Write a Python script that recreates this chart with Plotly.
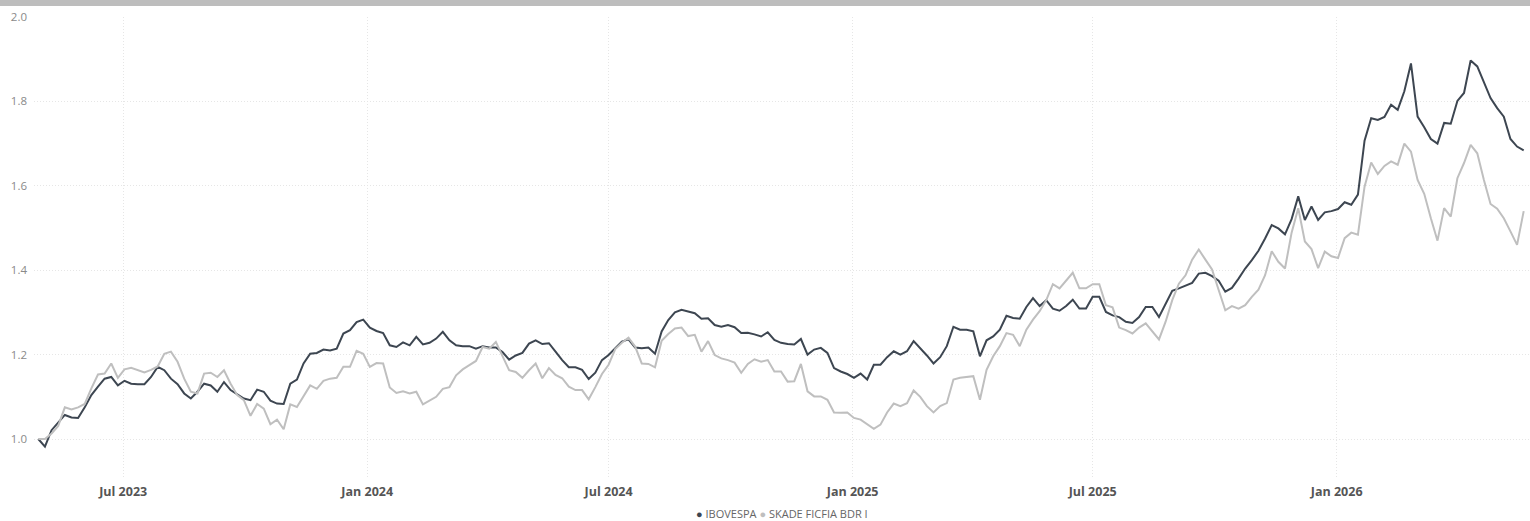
import plotly.graph_objects as go
import pandas as pd

# ---- data ----
start_date = "2023-04-28"
step = "5D"

series_names = ["IBOVESPA", "SKADE FICFIA BDR I"]

ibovespa = [
    1.000, 0.982, 1.021, 1.039, 1.057, 1.051, 1.050, 1.075, 1.104, 1.124,
    1.143, 1.147, 1.127, 1.138, 1.131, 1.130, 1.130, 1.147, 1.171, 1.163,
    1.143, 1.130, 1.108, 1.096, 1.112, 1.131, 1.127, 1.112, 1.135, 1.116,
    1.106, 1.096, 1.092, 1.117, 1.112, 1.091, 1.084, 1.083,
    1.131, 1.141, 1.179, 1.202, 1.204, 1.212, 1.210, 1.214, 1.250, 1.258,
    1.277, 1.283, 1.264, 1.256, 1.251, 1.222, 1.218, 1.229, 1.222, 1.242,
    1.224, 1.228, 1.238, 1.254, 1.234, 1.222, 1.220, 1.220, 1.214, 1.220,
    1.217, 1.217, 1.206, 1.188, 1.198, 1.204, 1.226, 1.234,
    1.225, 1.227, 1.207, 1.187, 1.170, 1.170, 1.164, 1.142, 1.157, 1.187,
    1.199, 1.215, 1.231, 1.236, 1.217, 1.215, 1.217, 1.202, 1.255, 1.282,
    1.300, 1.306, 1.302, 1.298, 1.285, 1.286, 1.270, 1.266, 1.270, 1.265,
    1.251, 1.252, 1.248, 1.243, 1.253, 1.235, 1.228, 1.225,
    1.224, 1.237, 1.200, 1.212, 1.216, 1.204, 1.168, 1.160, 1.154, 1.145,
    1.155, 1.141, 1.176, 1.176, 1.194, 1.208, 1.200, 1.208, 1.232, 1.216,
    1.198, 1.179, 1.194, 1.220, 1.266, 1.259, 1.259, 1.255, 1.196, 1.234,
    1.243, 1.259, 1.292, 1.287, 1.285, 1.313, 1.334, 1.315,
    1.329, 1.309, 1.304, 1.315, 1.330, 1.309, 1.309, 1.337, 1.337, 1.301,
    1.293, 1.289, 1.278, 1.275, 1.289, 1.313, 1.313, 1.289, 1.321, 1.351,
    1.357, 1.364, 1.370, 1.392, 1.394, 1.386, 1.375, 1.349, 1.358, 1.380,
    1.404, 1.424, 1.446, 1.475, 1.507, 1.499, 1.485,
    1.521, 1.575, 1.519, 1.551, 1.519, 1.537, 1.540, 1.545, 1.561, 1.555,
    1.579, 1.707, 1.760, 1.756, 1.763, 1.792, 1.780, 1.824, 1.890, 1.764,
    1.739, 1.711, 1.700, 1.749, 1.747, 1.801, 1.820, 1.897, 1.883, 1.847,
    1.808, 1.784, 1.764, 1.711, 1.693, 1.684,
]

skade = [
    1.000, 1.000, 1.013, 1.031, 1.075, 1.070, 1.075, 1.083, 1.120, 1.153,
    1.155, 1.179, 1.145, 1.165, 1.169, 1.163, 1.158, 1.164, 1.172, 1.202,
    1.207, 1.183, 1.143, 1.112, 1.108, 1.155, 1.157, 1.147, 1.163, 1.131,
    1.104, 1.092, 1.055, 1.083, 1.072, 1.035, 1.046, 1.023,
    1.082, 1.076, 1.100, 1.127, 1.119, 1.138, 1.143, 1.145, 1.171, 1.171,
    1.209, 1.202, 1.171, 1.180, 1.179, 1.122, 1.109, 1.113, 1.108, 1.112,
    1.082, 1.092, 1.100, 1.119, 1.123, 1.151, 1.165, 1.175, 1.185, 1.218,
    1.214, 1.230, 1.198, 1.163, 1.159, 1.145, 1.163, 1.179,
    1.144, 1.168, 1.152, 1.144, 1.124, 1.116, 1.116, 1.094, 1.123, 1.154,
    1.176, 1.213, 1.228, 1.240, 1.219, 1.179, 1.178, 1.170, 1.233, 1.249,
    1.262, 1.264, 1.244, 1.247, 1.207, 1.232, 1.199, 1.191, 1.187, 1.181,
    1.157, 1.178, 1.189, 1.183, 1.187, 1.160, 1.160, 1.136,
    1.137, 1.178, 1.113, 1.101, 1.101, 1.093, 1.063, 1.062, 1.063, 1.050,
    1.046, 1.036, 1.024, 1.034, 1.063, 1.084, 1.078, 1.085, 1.115, 1.100,
    1.078, 1.063, 1.078, 1.085, 1.141, 1.145, 1.147, 1.149, 1.093, 1.164,
    1.196, 1.220, 1.251, 1.247, 1.220, 1.259, 1.283, 1.303,
    1.329, 1.367, 1.357, 1.375, 1.394, 1.357, 1.357, 1.367, 1.367, 1.317,
    1.312, 1.264, 1.258, 1.250, 1.264, 1.274, 1.256, 1.236, 1.278, 1.329,
    1.368, 1.388, 1.425, 1.449, 1.425, 1.402, 1.353, 1.305, 1.315, 1.309,
    1.317, 1.337, 1.354, 1.388, 1.445, 1.420, 1.404,
    1.489, 1.547, 1.468, 1.450, 1.405, 1.444, 1.433, 1.429, 1.476, 1.489,
    1.484, 1.598, 1.655, 1.628, 1.647, 1.658, 1.650, 1.700, 1.681, 1.614,
    1.581, 1.523, 1.470, 1.547, 1.527, 1.618, 1.654, 1.697, 1.677, 1.614,
    1.557, 1.546, 1.523, 1.492, 1.460, 1.540,
]

x_tick_dates = ["2023-07-01", "2024-01-01", "2024-07-01",
                "2025-01-01", "2025-07-01", "2026-01-01"]
x_tick_labels = ["Jul 2023", "Jan 2024", "Jul 2024",
                 "Jan 2025", "Jul 2025", "Jan 2026"]
y_ticks = [1.0, 1.2, 1.4, 1.6, 1.8, 2.0]

# ---- styling ----
colors = ["#3d4651", "#bfbfbf"]
FONT = "Segoe UI, Open Sans, sans-serif"
GRID = "#e6e6e6"
GRID_DASH = "1px,2px"

dates = pd.date_range(start_date, periods=len(ibovespa), freq=step)

fig = go.Figure()
for name, vals, col in zip(series_names, [ibovespa, skade], colors):
    fig.add_trace(go.Scatter(
        x=dates, y=vals, mode="lines", name=name,
        line=dict(color=col, width=2),
        showlegend=False,
    ))

legend_text = (
    f"<span style='color:{colors[0]}'>●</span> {series_names[0]} "
    f"<span style='color:{colors[1]}'>●</span> {series_names[1]}"
)

fig.update_layout(
    width=1530, height=521,
    margin=dict(l=34, r=0, t=17, b=44),
    paper_bgcolor="white", plot_bgcolor="white",
    font=dict(family=FONT, size=11, color="#666666"),
    xaxis=dict(
        range=["2023-04-24 18:00", "2026-05-26 18:00"],
        tickmode="array", tickvals=x_tick_dates, ticktext=x_tick_labels,
        tickfont=dict(family=FONT, size=12.5, color="#555555", weight="bold"),
        showgrid=True, gridcolor=GRID, griddash=GRID_DASH, gridwidth=1,
        zeroline=False, showline=False, ticks="",
        ticklabelstandoff=5,
    ),
    yaxis=dict(
        range=[0.91, 2.0],
        tickmode="array", tickvals=y_ticks, tickformat=".1f",
        tickfont=dict(family=FONT, size=11.5, color="#8a8a8a"),
        showgrid=True, gridcolor=GRID, griddash=GRID_DASH, gridwidth=1,
        zeroline=False, showline=False, ticks="",
        ticklabelstandoff=6,
    ),
    shapes=[dict(
        type="rect", xref="paper", yref="paper",
        x0=-0.03, x1=1.01, y0=1.024, y1=1.05,
        fillcolor="#bdbdbd", line=dict(width=0), layer="above",
    )],
    annotations=[dict(
        text=legend_text, xref="paper", yref="paper",
        x=0.5, y=-0.08, xanchor="center", yanchor="middle",
        showarrow=False, font=dict(family=FONT, size=11, color="#666666"),
    )],
)

fig.write_html(
    "out.html",
    config={"displayModeBar": False},
    post_script="document.body.style.margin='0';document.body.style.padding='0';",
)
